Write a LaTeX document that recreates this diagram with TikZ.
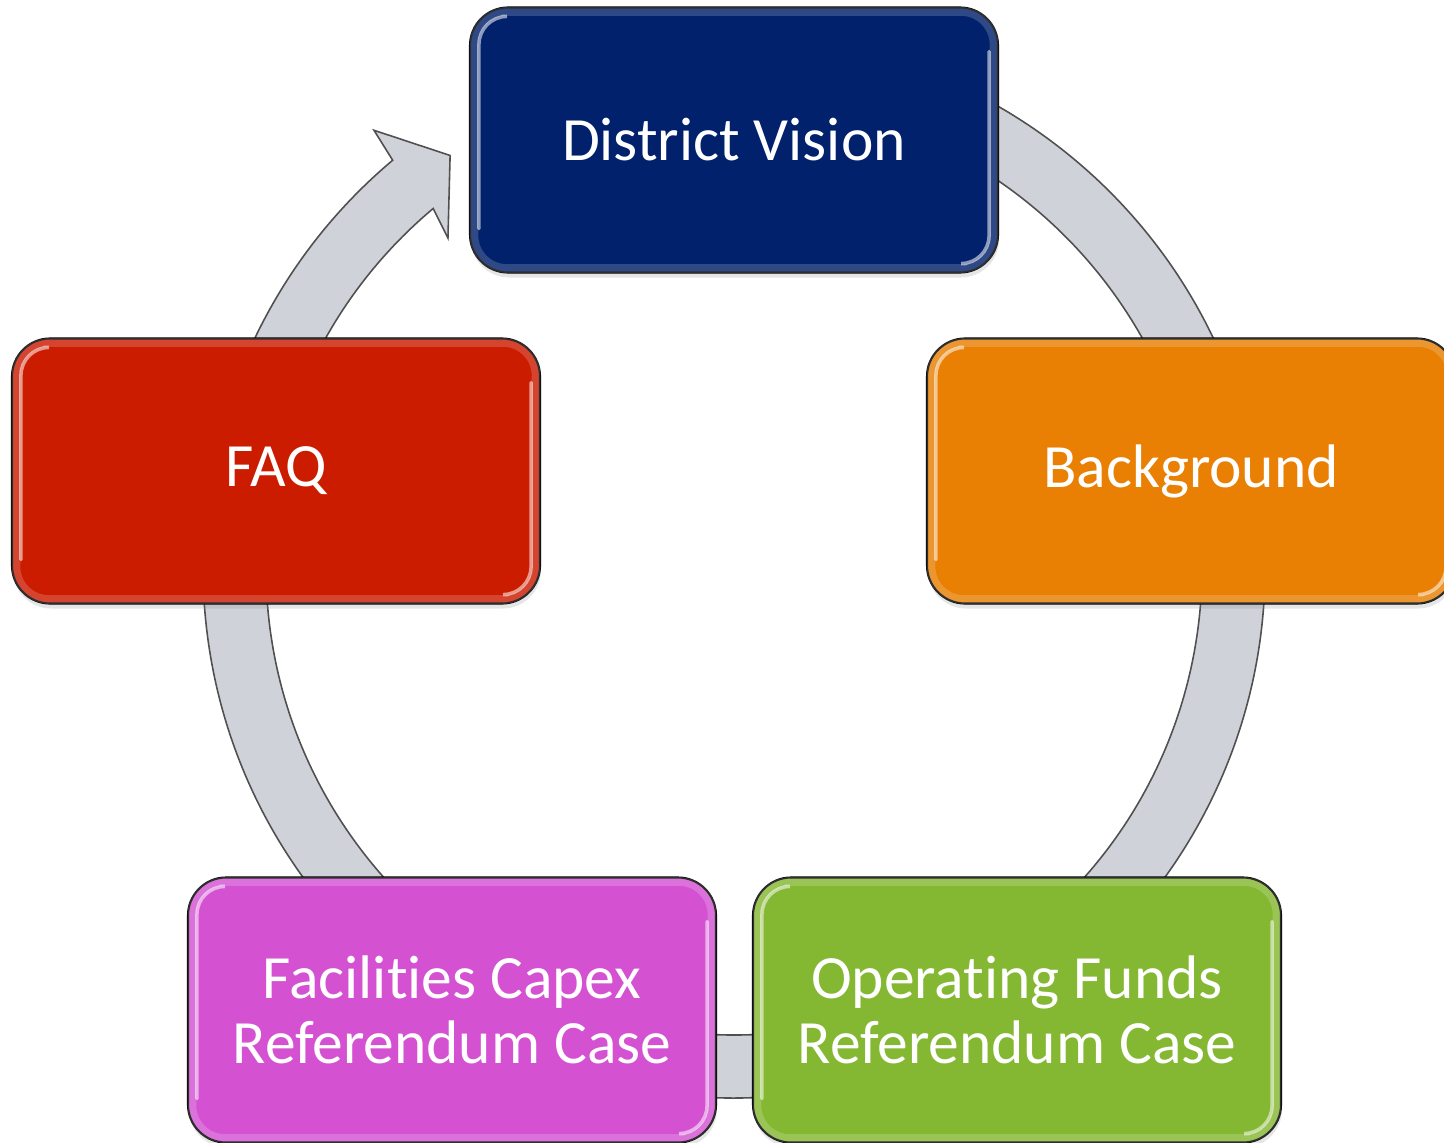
\documentclass[tikz,border=0pt]{standalone}
\usepackage{fontspec}
\setmainfont{Carlito}[RawFeature={-liga;-clig;-calt;-ccmp;-rlig;-dlig;-hlig}]
\usepackage{xcolor}
\usetikzlibrary{calc,shadows}
\definecolor{vision}{RGB}{2,33,108}
\definecolor{backgr}{RGB}{233,127,3}
\definecolor{operating}{RGB}{132,184,50}
\definecolor{facilities}{RGB}{212,82,210}
\definecolor{faq}{RGB}{204,28,0}
\definecolor{ringgray}{RGB}{208,210,218}
\definecolor{ringline}{RGB}{80,80,80}
\tikzset{
  block/.style={draw=black, line width=0.6pt, rounded corners=0.38cm,
    minimum width=5.28cm, minimum height=2.65cm, text=white, align=center,
    font=\fontsize{17.5}{18.5}\selectfont,
    drop shadow={shadow xshift=0.01cm, shadow yshift=-0.05cm, opacity=0.2}},
}
\newcommand{\gloss}[1]{%
  \def\boxname{#1}
  \draw[white, opacity=0.18, line width=2.5pt, rounded corners=0.33cm]
    ($(\boxname.south west)+(0.05,0.05)$) rectangle ($(\boxname.north east)+(-0.05,-0.05)$);
  \draw[white, opacity=0.55, line width=1pt, rounded corners=0.28cm, line cap=round]
    ($(\boxname.north west)+(0.33,-0.1)$) -- ($(\boxname.north west)+(0.1,-0.1)$)
    -- ($(\boxname.south west)+(0.1,0.45)$);
  \draw[white, opacity=0.55, line width=1pt, rounded corners=0.28cm, line cap=round]
    ($(\boxname.north east)+(-0.1,-0.45)$) -- ($(\boxname.south east)+(-0.1,0.1)$)
    -- ($(\boxname.south east)+(-0.33,0.1)$);
}

\begin{document}
\begin{tikzpicture}
	\clip (0,0) rectangle (14.44,11.42);
	\coordinate (O) at (7.34,5.75);
	% ring arrow behind the blocks
	\draw[fill=ringgray, draw=ringline, line width=0.45pt]
	  ($(O)+(95:5.31)$) arc[start angle=95, end angle=-230, radius=5.31]
	  -- ($(O)+(129.5:5.66)$) -- ($(O)+(124.6:5.00)$) -- ($(O)+(131:4.36)$)
	  -- ($(O)+(130:4.68)$) arc[start angle=-230, end angle=95, radius=4.68] -- cycle;
	\node[block, fill=vision] (vision) at (7.34,10.02) {District Vision};
	\node[block, fill=backgr] (backgr) at (11.91,6.71) {Background};
	\node[block, fill=operating] (operating) at (10.17,1.32) {Operating Funds\\Referendum Case};
	\node[block, fill=facilities] (facilities) at (4.52,1.32) {Facilities Capex\\Referendum Case};
	\node[block, fill=faq] (faq) at (2.76,6.71) {FAQ};
	\foreach \n in {vision,backgr,operating,facilities,faq}{
	  \gloss{\n}
	}
\end{tikzpicture}
\end{document}
